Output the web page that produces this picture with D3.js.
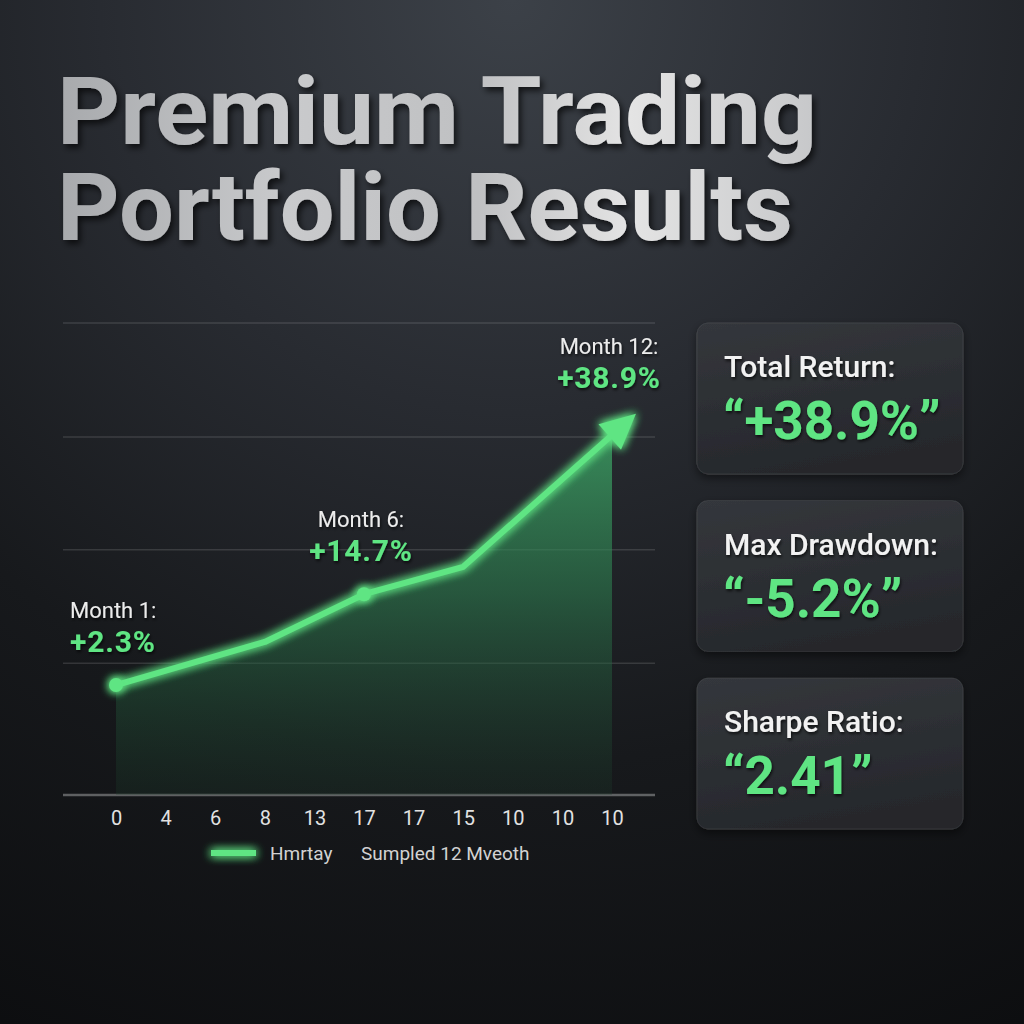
<!DOCTYPE html>
<html><head><meta charset="utf-8">
<script src="https://cdn.jsdelivr.net/npm/d3@7"></script>
<style>html,body{margin:0;padding:0;background:#111;} svg{display:block;}</style>
</head><body>
<svg id="c" width="1024" height="1024"></svg>
<script>
// ---- data ----
const titleLines = ["Premium Trading", "Portfolio Results"];
const tickLabels = ["0","4","6","8","13","17","17","15","10","10","10"];
const seriesIndex = [0, 3, 5, 7, 10];
const seriesValues = [2.3, 8.6, 15.6, 19.6, 38.9];
const gridLevels = [5.5, 22.1, 38.6, 55.3];
const markerIndex = [0, 5];
const annotationIndex = [0, 5, 10];
const annotationMonths = ["Month 1:", "Month 6:", "Month 12:"];
const annotationValues = ["+2.3%", "+14.7%", "+38.9%"];
const statLabels = ["Total Return:", "Max Drawdown:", "Sharpe Ratio:"];
const statValues = ["\u201C+38.9%\u201D", "\u201C-5.2%\u201D", "\u201C2.41\u201D"];
const legendLabels = ["Hmrtay", "Sumpled 12 Mveoth"];

const GREEN = "#5fe583";
const svg = d3.select("#c");
const defs = svg.append("defs");

// background
const bg = defs.append("radialGradient").attr("id","bg").attr("cx","50%").attr("cy","0%").attr("r","115%");
[["0","#3c4148"],["0.35","#282b31"],["0.65","#17191c"],["1","#0c0d0f"]].forEach(s=>bg.append("stop").attr("offset",s[0]).attr("stop-color",s[1]));
svg.append("rect").attr("width",1024).attr("height",1024).attr("fill","url(#bg)");

// filters
const glow = defs.append("filter").attr("id","glow").attr("filterUnits","userSpaceOnUse")
  .attr("x",0).attr("y",0).attr("width",1024).attr("height",1024);
glow.append("feGaussianBlur").attr("in","SourceGraphic").attr("stdDeviation",5).attr("result","b");
const gm = glow.append("feMerge"); gm.append("feMergeNode").attr("in","b"); gm.append("feMergeNode").attr("in","b"); gm.append("feMergeNode").attr("in","SourceGraphic");

const shadow = defs.append("filter").attr("id","shadow").attr("x","-10%").attr("y","-20%").attr("width","130%").attr("height","150%");
shadow.append("feDropShadow").attr("dx",3).attr("dy",4).attr("stdDeviation",3).attr("flood-color","#000").attr("flood-opacity",0.65);

const tshadow = defs.append("filter").attr("id","tshadow").attr("x","-10%").attr("y","-20%").attr("width","130%").attr("height","150%");
tshadow.append("feDropShadow").attr("dx",1).attr("dy",2).attr("stdDeviation",1.5).attr("flood-color","#000").attr("flood-opacity",0.7);

const cshadow = defs.append("filter").attr("id","cshadow").attr("x","-10%").attr("y","-10%").attr("width","130%").attr("height","130%");
cshadow.append("feDropShadow").attr("dx",0).attr("dy",4).attr("stdDeviation",5).attr("flood-color","#000").attr("flood-opacity",0.5);

// title
const tg = defs.append("linearGradient").attr("id","titleGrad").attr("gradientUnits","userSpaceOnUse").attr("x1",60).attr("y1",0).attr("x2",820).attr("y2",0);
[["0","#a8aaad"],["0.3","#c9cacc"],["0.55","#bfc0c2"],["0.75","#e4e4e4"],["1","#c6c7c9"]].forEach(s=>tg.append("stop").attr("offset",s[0]).attr("stop-color",s[1]));
const titleWidths = [760, 736];
svg.append("g").selectAll("text").data(titleLines).join("text")
  .attr("x",57).attr("y",(d,i)=>144+i*96)
  .attr("font-family","Roboto").attr("font-weight",700).attr("font-size",95)
  .attr("textLength",(d,i)=>titleWidths[i]).attr("lengthAdjust","spacingAndGlyphs")
  .attr("fill","url(#titleGrad)").attr("filter","url(#shadow)")
  .text(d=>d);

// scales
const x = d3.scalePoint().domain(d3.range(tickLabels.length)).range([116, 612]);
const y = d3.scaleLinear().domain([-13.8, 55.3]).range([795, 323]);
const series = seriesIndex.map((idx,i)=>({i:idx, v:seriesValues[i]}));

// grid
svg.append("g").selectAll("line").data(gridLevels).join("line")
  .attr("x1",63).attr("x2",655).attr("y1",d=>y(d)).attr("y2",d=>y(d))
  .attr("stroke","rgba(255,255,255,0.13)").attr("stroke-width",1.5);
svg.append("line").attr("x1",63).attr("x2",655).attr("y1",y(-13.8)).attr("y2",y(-13.8))
  .attr("stroke","rgba(255,255,255,0.32)").attr("stroke-width",2.5);

// area
const ag = defs.append("linearGradient").attr("id","areaGrad").attr("gradientUnits","userSpaceOnUse").attr("x1",0).attr("y1",y(40)).attr("x2",0).attr("y2",y(-13.8));
[["0","#3fae6a",0.75],["0.45","#2c7a4d",0.6],["1","#1c3d2b",0.25]].forEach(s=>ag.append("stop").attr("offset",s[0]).attr("stop-color",s[1]).attr("stop-opacity",s[2]));
svg.append("path").datum(series)
  .attr("d", d3.area().x(d=>x(d.i)).y0(y(-13.8)).y1(d=>y(d.v)))
  .attr("fill","url(#areaGrad)");

// arrow marker
const mk = defs.append("marker").attr("id","arrow").attr("markerUnits","userSpaceOnUse")
  .attr("markerWidth",40).attr("markerHeight",40).attr("refX",0).attr("refY",0)
  .attr("orient","auto").attr("overflow","visible");
mk.append("path").attr("d","M-3,-17 L32,0 L-3,17 Z").attr("fill",GREEN);

// line
svg.append("path").datum(series)
  .attr("d", d3.line().x(d=>x(d.i)).y(d=>y(d.v)))
  .attr("fill","none").attr("stroke",GREEN).attr("stroke-width",6)
  .attr("stroke-linejoin","round").attr("stroke-linecap","round")
  .attr("marker-end","url(#arrow)").attr("filter","url(#glow)");

// markers
svg.append("g").selectAll("circle").data(series.filter(d=>markerIndex.includes(d.i))).join("circle")
  .attr("cx",d=>x(d.i)).attr("cy",d=>y(d.v)).attr("r",7)
  .attr("fill",GREEN).attr("filter","url(#glow)");

// annotations
const ann = annotationIndex.map((idx,k)=>{
  const p = series.find(s=>s.i===idx);
  return {px:x(idx), py:y(p.v), m:annotationMonths[k], v:annotationValues[k], k};
});
const annG = svg.append("g");
ann.forEach(a=>{
  const first = a.k===0, last = a.k===ann.length-1;
  const ax = first ? a.px-46 : a.px-3;
  const anchor = first ? "start" : "middle";
  const off = last ? 14 : 0;
  annG.append("text").attr("x",ax).attr("y",a.py-67-off).attr("text-anchor",anchor)
    .attr("font-family","Roboto").attr("font-size",22).attr("fill","#ececec")
    .attr("filter","url(#tshadow)").text(a.m);
  annG.append("text").attr("x",ax).attr("y",a.py-33-off).attr("text-anchor",anchor)
    .attr("font-family","Roboto").attr("font-weight",700).attr("font-size",30)
    .attr("letter-spacing",0.8).attr("fill",GREEN).attr("filter","url(#tshadow)").text(a.v);
});

// x axis tick labels
const xAxis = d3.axisBottom(x).tickSize(0).tickPadding(0).tickFormat(i=>tickLabels[i]);
const axG = svg.append("g").attr("transform","translate(0,811)").call(xAxis);
axG.select(".domain").remove();
axG.selectAll("text").attr("font-family","Roboto").attr("font-size",20).attr("fill","#e2e2e2").attr("dy","0.71em").attr("y",0);

// legend
svg.append("rect").attr("x",211).attr("y",850).attr("width",45).attr("height",6)
  .attr("fill",GREEN).attr("filter","url(#glow)");
svg.append("g").selectAll("text").data(legendLabels).join("text")
  .attr("x",(d,i)=>[270,361][i]).attr("y",860)
  .attr("font-family","Roboto").attr("font-size",19).attr("fill","#d2d2d2").text(d=>d);

// stat cards
const band = d3.scaleBand().domain(statLabels).range([323, 829]).paddingInner(0.15);
const cg = defs.append("linearGradient").attr("id","cardGrad").attr("x1",0).attr("y1",0).attr("x2",0.3).attr("y2",1);
[["0","#34373c"],["1","#26282c"]].forEach(s=>cg.append("stop").attr("offset",s[0]).attr("stop-color",s[1]));
const cards = svg.append("g").selectAll("g").data(statLabels).join("g")
  .attr("transform",d=>`translate(697,${band(d)})`);
cards.append("rect").attr("width",266).attr("height",band.bandwidth()).attr("rx",11)
  .attr("fill","url(#cardGrad)").attr("stroke","rgba(255,255,255,0.07)").attr("filter","url(#cshadow)");
cards.append("text").attr("x",27).attr("y",54)
  .attr("font-family","Roboto").attr("font-weight",500).attr("font-size",30).attr("fill","#f2f2f2")
  .attr("filter","url(#tshadow)").text(d=>d);
cards.append("text").attr("x",26).attr("y",116)
  .attr("font-family","Roboto").attr("font-weight",700).attr("font-size",53).attr("fill",GREEN)
  .attr("filter","url(#tshadow)").text((d,i)=>statValues[i]);
</script>
</body></html>
